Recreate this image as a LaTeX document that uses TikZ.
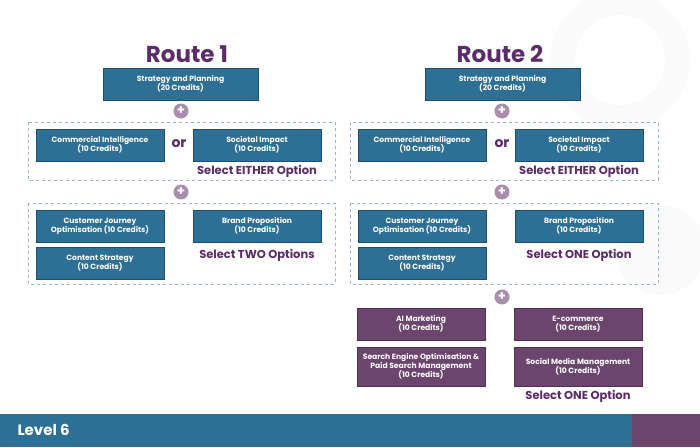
\documentclass[tikz,border=0pt]{standalone}
\usepackage{fontspec}
\setmainfont{Poppins}
\definecolor{teal}{HTML}{2E6F95}
\definecolor{plum}{HTML}{6C456F}
\definecolor{plus}{HTML}{A88DAD}
\definecolor{title}{HTML}{5A2D68}
\definecolor{dash}{HTML}{9DB4C8}
\begin{document}
\begin{tikzpicture}[x=1pt,y=-1pt,
 box/.style={fill=teal,draw=teal!70!black,line width=0.4pt,text=white,font=\fontsize{7.6}{9.2}\selectfont\bfseries,align=center,inner sep=0pt},
 pbox/.style={box,fill=plum,draw=plum!70!black},
 plusc/.style={circle,fill=plus,text=white,minimum size=15pt,inner sep=0pt,font=\bfseries\fontsize{13}{13}\selectfont},
 frame/.style={draw=dash,dashed,line width=0.8pt},
 sel/.style={text=title,font=\fontsize{11.5}{13}\selectfont\bfseries},
 rt/.style={text=title,font=\fontsize{23}{26}\selectfont\bfseries}]
\useasboundingbox (0,0) rectangle (700,447);
\fill[white] (0,0) rectangle (700,447);
\fill[gray!4] (620,60) circle (70) (660,250) circle (45);
\fill[white] (620,60) circle (45);
% Route 1
\node[rt] (r1) at (187,54) {Route 1};
\node[box,minimum width=155pt,minimum height=32pt] (sp1) at (180.5,84) {Strategy and Planning\\(20 Credits)};
\node[plusc] (p11) at (181,111) {+};
\draw[frame] (28,122) rectangle (335,180);
\node[box,minimum width=128pt,minimum height=32pt] (ci1) at (100,145) {Commercial Intelligence\\(10 Credits)};
\node[text=title,font=\fontsize{14}{14}\selectfont\bfseries] (or1) at (179,144) {or};
\node[box,minimum width=128pt,minimum height=32pt] (si1) at (257,145) {Societal Impact\\(10 Credits)};
\node[sel] (se1) at (257,171) {Select EITHER Option};
\node[plusc] (p12) at (181,192) {+};
\draw[frame] (28,203) rectangle (335,284);
\node[box,minimum width=128pt,minimum height=32pt] (cj1) at (100,226) {Customer Journey\\Optimisation (10 Credits)};
\node[box,minimum width=128pt,minimum height=32pt] (cs1) at (100,263) {Content Strategy\\(10 Credits)};
\node[box,minimum width=128pt,minimum height=32pt] (bp1) at (257,226) {Brand Proposition\\(10 Credits)};
\node[sel] (st1) at (257,255) {Select TWO Options};
% Route 2
\node[rt] (r2) at (500,54) {Route 2};
\node[box,minimum width=155pt,minimum height=32pt] (sp2) at (502.5,84) {Strategy and Planning\\(20 Credits)};
\node[plusc] (p21) at (502,111) {+};
\draw[frame] (350,122) rectangle (658,180);
\node[box,minimum width=128pt,minimum height=32pt] (ci2) at (422,145) {Commercial Intelligence\\(10 Credits)};
\node[text=title,font=\fontsize{14}{14}\selectfont\bfseries] (or2) at (502,144) {or};
\node[box,minimum width=128pt,minimum height=32pt] (si2) at (579,145) {Societal Impact\\(10 Credits)};
\node[sel] (se2) at (579,171) {Select EITHER Option};
\node[plusc] (p22) at (502,192) {+};
\draw[frame] (350,203) rectangle (658,284);
\node[box,minimum width=128pt,minimum height=32pt] (cj2) at (422,226) {Customer Journey\\Optimisation (10 Credits)};
\node[box,minimum width=128pt,minimum height=32pt] (cs2) at (422,263) {Content Strategy\\(10 Credits)};
\node[box,minimum width=128pt,minimum height=32pt] (bp2) at (579,226) {Brand Proposition\\(10 Credits)};
\node[sel] (so2) at (579,255) {Select ONE Option};
\node[plusc] (p23) at (502,297) {+};
\node[pbox,minimum width=128pt,minimum height=32pt] (ai) at (421,324) {AI Marketing\\(10 Credits)};
\node[pbox,minimum width=128pt,minimum height=39pt] (seo) at (421,366.5) {Search Engine Optimisation \&\\Paid Search Management\\(10 Credits)};
\node[pbox,minimum width=128pt,minimum height=32pt] (ec) at (578,324) {E-commerce\\(10 Credits)};
\node[pbox,minimum width=128pt,minimum height=39pt] (smm) at (578,366.5) {Social Media Management\\(10 Credits)};
\node[sel] (so3) at (578,396) {Select ONE Option};
% bottom bar
\fill[teal] (0,414) rectangle (632,447);
\fill[plum] (632,414) rectangle (700,447);
\node[anchor=west,text=white,font=\fontsize{15}{17}\selectfont\bfseries] (lv) at (14,430) {Level 6};
\end{tikzpicture}
\end{document}
